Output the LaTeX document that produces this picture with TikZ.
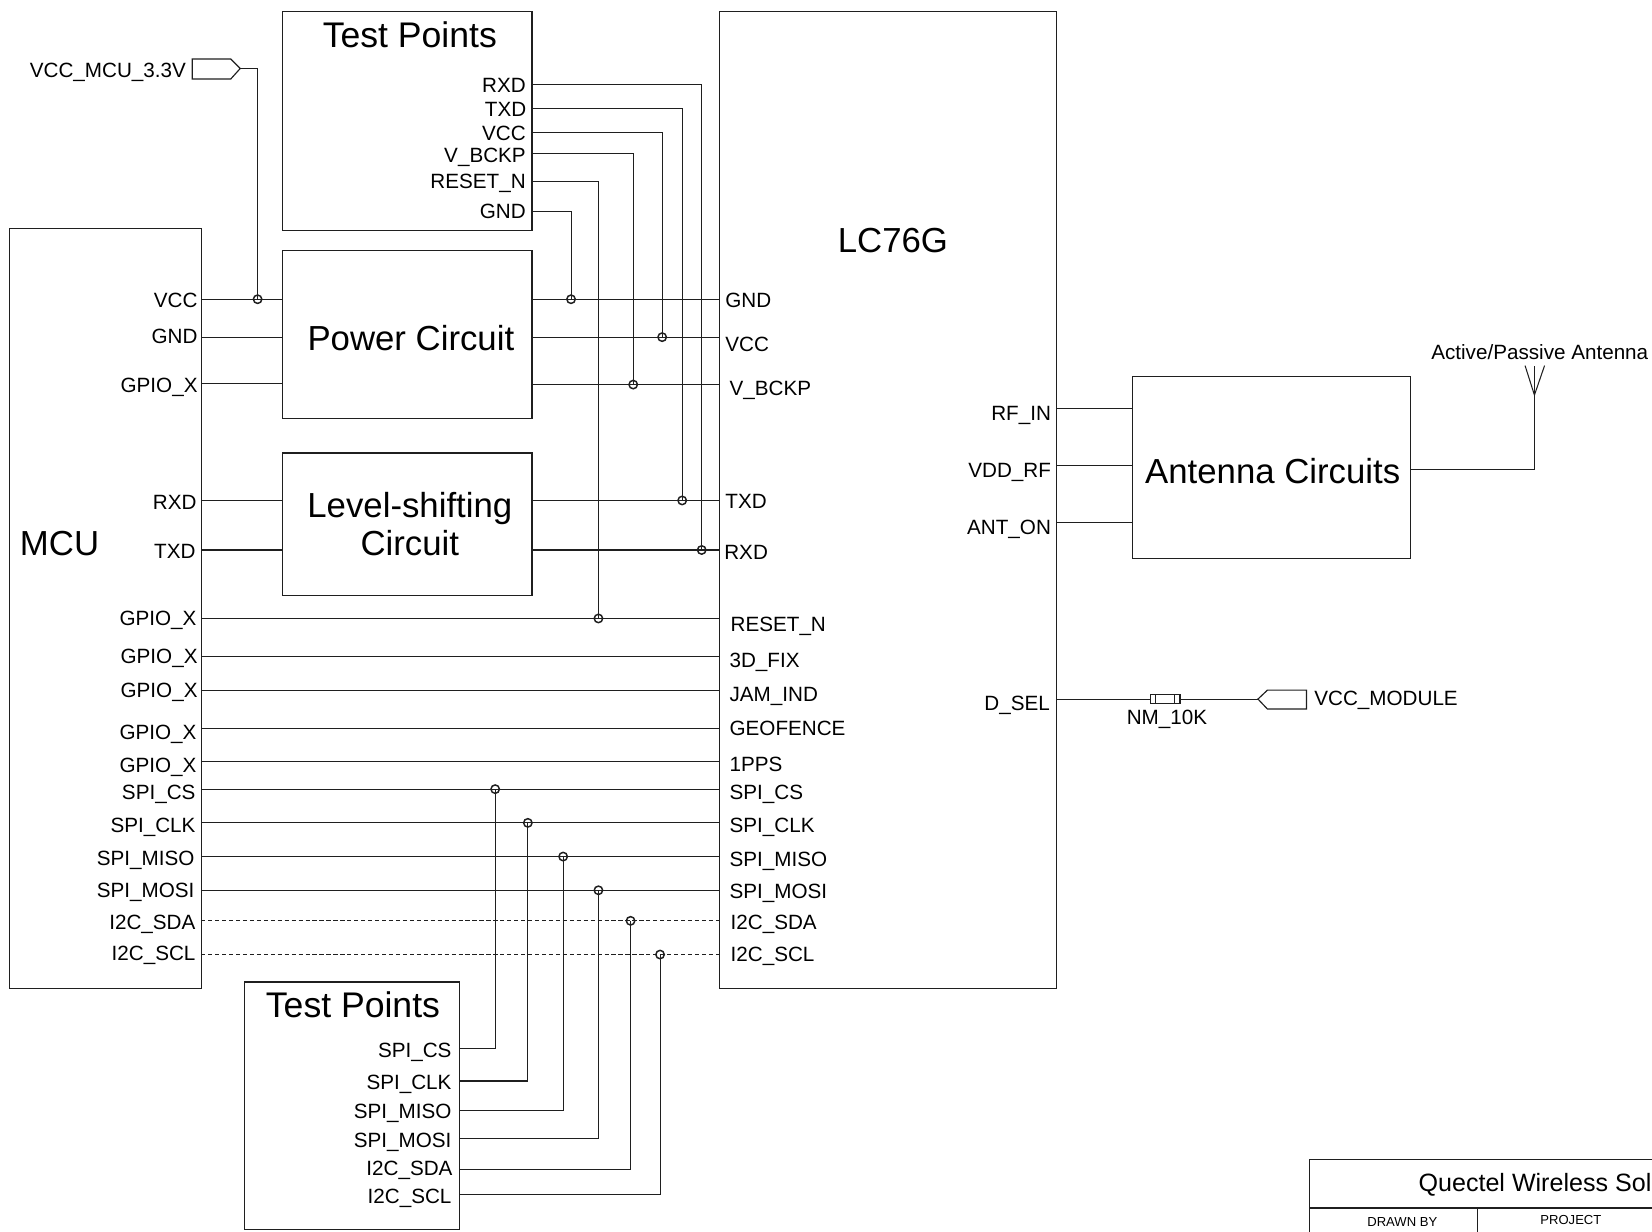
\documentclass[tikz,border=0pt]{standalone}
\usepackage{fontspec}
\setmainfont{Liberation Sans}
\tikzset{
  sheet/.style={x=0.5pt,y=-0.5pt,line width=0.5pt,color=black!88},
  box/.style={draw,rectangle,inner sep=0pt,line width=0.55pt},
  big/.style={inner sep=0pt,font=\fontsize{16.5}{18}\selectfont,align=center,text=black},
  tptitle/.style={inner sep=0pt,font=\fontsize{16.9}{18}\selectfont,text=black},
  pinr/.style={anchor=east,inner sep=0pt,text height=7pt,text depth=0pt,font=\fontsize{9.8}{11}\selectfont,text=black},
  pinl/.style={anchor=west,inner sep=0pt,text height=7pt,text depth=0pt,font=\fontsize{9.8}{11}\selectfont,text=black},
  wire/.style={draw,line width=0.5pt},
  buswire/.style={draw,line width=0.5pt,dash pattern=on 2pt off 1.3pt},
  dotj/.style={circle,draw,inner sep=0pt,minimum size=4pt,line width=0.7pt,text=black},
}
\begin{document}
\begin{tikzpicture}[sheet]
\useasboundingbox (0,0) rectangle (1568,1169);
\clip (0,0) rectangle (1568,1169);

% boxes
\node[box,minimum width=91pt,minimum height=360.5pt] (mcu) at (100,577.5) {};
\node[box,minimum width=118.5pt,minimum height=104pt] (tptop) at (386.5,115) {};
\node[box,minimum width=118.5pt,minimum height=79.5pt] (pwr) at (386.5,317.5) {};
\node[box,minimum width=118.5pt,minimum height=67.5pt] (lvl) at (386.5,497.5) {};
\node[box,minimum width=160pt,minimum height=463.5pt] (gnss) at (843,474.5) {};
\node[box,minimum width=132pt,minimum height=86.5pt] (ant) at (1207,443.5) {};
\node[box,minimum width=102pt,minimum height=117.5pt] (tpbot) at (334,1049.5) {};

% box titles
\node[big] (tMCU) at (56.5,516) {MCU};
\node[tptitle] (tTop) at (389,33) {Test Points};
\node[big] (tPwr) at (390,321) {Power Circuit};
\node[big] (tLvl) at (389,497) {Level-shifting\\Circuit};
\node[big] (tGnss) at (847.5,228) {LC76G};
\node[big] (tAnt) at (1208,447) {Antenna Circuits};
\node[tptitle] (tBot) at (335,954) {Test Points};

% MCU pin labels
\node[pinr] (a1) at (188,285) {VCC};
\node[pinr] (a2) at (188,319) {GND};
\node[pinr] (a3) at (188,366) {GPIO\_X};
\node[pinr] (a4) at (187,477) {RXD};
\node[pinr] (a5) at (186,523) {TXD};
\node[pinr] (a6) at (187,587) {GPIO\_X};
\node[pinr] (a7) at (188,623) {GPIO\_X};
\node[pinr] (a8) at (188,655) {GPIO\_X};
\node[pinr] (a9) at (187,695) {GPIO\_X};
\node[pinr] (a10) at (187,726) {GPIO\_X};
\node[pinr] (a11) at (186,752) {SPI\_CS};
\node[pinr] (a12) at (186,783) {SPI\_CLK};
\node[pinr] (a13) at (185,814) {SPI\_MISO};
\node[pinr] (a14) at (185,845) {SPI\_MOSI};
\node[pinr] (a15) at (186,875) {I2C\_SDA};
\node[pinr] (a16) at (186,905) {I2C\_SCL};

% module pin labels
\node[pinl] (b1) at (688,285) {GND};
\node[pinl] (b2) at (688,327) {VCC};
\node[pinl] (b3) at (692,368) {V\_BCKP};
\node[pinl] (b4) at (688,476) {TXD};
\node[pinl] (b5) at (687,524) {RXD};
\node[pinl] (b6) at (693,592) {RESET\_N};
\node[pinl] (b7) at (692,627) {3D\_FIX};
\node[pinl] (b8) at (692,659) {JAM\_IND};
\node[pinl] (b9) at (692,691) {GEOFENCE};
\node[pinl] (b10) at (692,725) {1PPS};
\node[pinl] (b11) at (692,752) {SPI\_CS};
\node[pinl] (b12) at (692,783) {SPI\_CLK};
\node[pinl] (b13) at (692,815) {SPI\_MISO};
\node[pinl] (b14) at (692,846) {SPI\_MOSI};
\node[pinl] (b15) at (693,875) {I2C\_SDA};
\node[pinl] (b16) at (693,906) {I2C\_SCL};

\node[pinr] (c1) at (998,392) {RF\_IN};
\node[pinr] (c2) at (998,446) {VDD\_RF};
\node[pinr] (c3) at (998,500) {ANT\_ON};
\node[pinr] (c4) at (997,667) {D\_SEL};

% top test points
\node[pinr] (d1) at (499.5,81) {RXD};
\node[pinr] (d2) at (500,104) {TXD};
\node[pinr] (d3) at (499.5,126) {VCC};
\node[pinr] (d4) at (499.5,147) {V\_BCKP};
\node[pinr] (d5) at (499.5,172) {RESET\_N};
\node[pinr] (d6) at (499.5,200) {GND};

% bottom test points
\node[pinr] (e1) at (429,997) {SPI\_CS};
\node[pinr] (e2) at (429,1027) {SPI\_CLK};
\node[pinr] (e3) at (429,1055) {SPI\_MISO};
\node[pinr] (e4) at (429,1082) {SPI\_MOSI};
\node[pinr] (e5) at (430,1109) {I2C\_SDA};
\node[pinr] (e6) at (429,1135) {I2C\_SCL};

% other labels
\node[pinr] (fVcc) at (177,67) {VCC\_MCU\_3.3V};
\node[pinl] (fMod) at (1247,663) {VCC\_MODULE};
\node[pinl] (fNm) at (1069,681) {NM\_10K};
\node[pinl] (fAnt) at (1358,334) {Active/Passive Antenna};

% junctions
\node[dotj] (j0) at (244.5,284) {};
\node[dotj] (j1) at (542,284) {};
\node[dotj] (j2) at (628.5,320) {};
\node[dotj] (j3) at (601,365) {};
\node[dotj] (j4) at (647.5,475) {};
\node[dotj] (j5) at (666,522) {};
\node[dotj] (j6) at (568,587) {};
\node[dotj] (j7) at (470,749) {};
\node[dotj] (j8) at (501,781) {};
\node[dotj] (j9) at (534.5,813) {};
\node[dotj] (j10) at (568,845) {};
\node[dotj] (j11) at (598.5,874) {};
\node[dotj] (j12) at (626.5,906) {};

% wire end coordinates, MCU side
\foreach \n/\y in {1/284,2/320,3/364,4/475,5/522,6/587,7/623,8/655,9/691,10/723,11/749,12/781,13/813,14/845,15/874,16/906}{
  \coordinate (ml\n) at (191,\y);
  \coordinate (gl\n) at (683,\y);
}
\coordinate (pl1) at (268,284); \coordinate (pl2) at (268,320); \coordinate (pl3) at (268,364);
\coordinate (pr1) at (505,284); \coordinate (pr2) at (505,320); \coordinate (pr3) at (505,365);
\coordinate (gp3) at (683,365);
\coordinate (ll1) at (268,475); \coordinate (ll2) at (268,522);
\coordinate (lr1) at (505,475); \coordinate (lr2) at (505,522);

\draw[wire] (ml1) -- (pl1);
\draw[wire] (ml2) -- (pl2);
\draw[wire] (ml3) -- (pl3);
\draw[wire] (ml4) -- (ll1);
\draw[wire] (ml5) -- (ll2);
\draw[wire] (pr1) -- (gl1);
\draw[wire] (pr2) -- (gl2);
\draw[wire] (pr3) -- (gp3);
\draw[wire] (lr1) -- (gl4);
\draw[wire] (lr2) -- (gl5);
\foreach \n in {6,...,14}{\draw[wire] (ml\n) -- (gl\n);}
\draw[buswire] (ml15) -- (gl15);
\draw[buswire] (ml16) -- (gl16);

% top test point wires
\coordinate (t1) at (505,80);
\coordinate (t2) at (505,103);
\coordinate (t3) at (505,126);
\coordinate (t4) at (505,146);
\coordinate (t5) at (505,172);
\coordinate (t6) at (505,201);
\draw[wire] (t1) -| (j5.center);
\draw[wire] (t2) -| (j4.center);
\draw[wire] (t3) -| (j2.center);
\draw[wire] (t4) -| (j3.center);
\draw[wire] (t5) -| (j6.center);
\draw[wire] (t6) -| (j1.center);

% bottom test point wires
\coordinate (u1) at (436,995);
\coordinate (u2) at (436,1026);
\coordinate (u3) at (436,1054);
\coordinate (u4) at (436,1081);
\coordinate (u5) at (436,1110);
\coordinate (u6) at (436,1134);
\draw[wire] (u1) -| (j7.center);
\draw[wire] (u2) -| (j8.center);
\draw[wire] (u3) -| (j9.center);
\draw[wire] (u4) -| (j10.center);
\draw[wire] (u5) -| (j11.center);
\draw[wire] (u6) -| (j12.center);

% VCC_MCU port
\coordinate (pa) at (228,65);
\draw[box] (182.5,56) -- (219,56) -- (pa) -- (219,75) -- (182.5,75) -- cycle;
\draw[wire] (pa) -| (j0.center);

% antenna side
\coordinate (ar1) at (1003,388); \coordinate (ar2) at (1075,388);
\coordinate (av1) at (1003,442); \coordinate (av2) at (1075,442);
\coordinate (ao1) at (1003,496); \coordinate (ao2) at (1075,496);
\draw[wire] (ar1) -- (ar2);
\draw[wire] (av1) -- (av2);
\draw[wire] (ao1) -- (ao2);
\coordinate (ax) at (1339,446);
\coordinate (atop) at (1456.4,347);
\coordinate (avee) at (1456.4,375);
\draw[wire] (ax) -| (atop);
\draw[wire] (1447.5,347) -- (avee) -- (1466,347);

% D_SEL
\coordinate (ds) at (1003,663.5);
\coordinate (rl) at (1092,663.5);
\coordinate (rr) at (1120,663.5);
\coordinate (pm) at (1194,663.5);
\draw[wire] (ds) -- (rl);
\draw[wire] (rr) -- (pm);
\draw[box] (1092,659) rectangle (1120,668);
\draw[wire] (1097,659) -- (1097,668);
\draw[wire] (1115,659) -- (1115,668);
\draw[box] (pm) -- (1203,655) -- (1240,655) -- (1240,673) -- (1203,673) -- cycle;

% title block
\draw[box] (1568,1100.5) -- (1243,1100.5) -- (1243,1169);
\draw[box] (1243,1146.5) -- (1568,1146.5);
\draw[box] (1402,1146.5) -- (1402,1169);
\node[pinl,text height=8.6pt,font=\fontsize{11.9}{14}\selectfont] (qt) at (1346,1122) {Quectel Wireless Sol};
\node[inner sep=0pt,font=\fontsize{6.2}{8}\selectfont,text=black] (qd) at (1331,1159.5) {DRAWN BY};
\node[inner sep=0pt,font=\fontsize{6.2}{8}\selectfont,text=black] (qp) at (1491,1157.5) {PROJECT};
\end{tikzpicture}
\end{document}
